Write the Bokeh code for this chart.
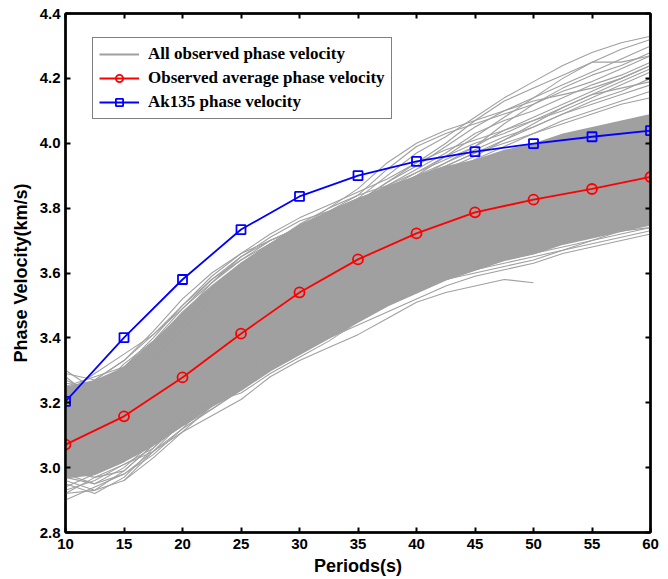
from bokeh.plotting import figure
from bokeh.models import (Legend, LegendItem, LinearAxis, FixedTicker,
                          PrintfTickFormatter, Range1d, CustomJSTickFormatter)
from bokeh.embed import file_html
from bokeh.resources import INLINE

nan = float("nan")

# ---- data ----
periods = [10, 15, 20, 25, 30, 35, 40, 45, 50, 55, 60]
avg_obs = [3.071, 3.158, 3.278, 3.413, 3.540, 3.642, 3.722, 3.787, 3.826, 3.859, 3.896]
ak135 = [3.204, 3.401, 3.580, 3.734, 3.836, 3.900, 3.944, 3.974, 3.999, 4.020, 4.039]

# periods at which the individual observed curves are sampled
obs_periods = [10, 12.5, 15, 17.5, 20, 22.5, 25, 27.5, 30, 32.5, 35,
               37.5, 40, 42.5, 45, 47.5, 50, 52.5, 55, 57.5, 60]

# dense core of the observed curves
core_lo = [2.97, 2.98, 3.02, 3.07, 3.13, 3.19, 3.24, 3.30, 3.35, 3.40, 3.45,
           3.50, 3.54, 3.58, 3.61, 3.64, 3.66, 3.69, 3.71, 3.73, 3.75]
core_hi = [3.25, 3.27, 3.31, 3.39, 3.48, 3.56, 3.63, 3.69, 3.75, 3.79, 3.83,
           3.87, 3.90, 3.93, 3.95, 3.98, 4.00, 4.03, 4.05, 4.07, 4.09]

# individual observed curves on the fringes of the bundle
obs_upper_1 = [3.26, 3.25, 3.31, 3.40, 3.50, 3.58, 3.65, 3.71, 3.76, 3.79, 3.83,
               3.90, 3.97, 4.02, 4.08, 4.14, 4.19, 4.24, 4.28, 4.31, 4.33]
obs_upper_2 = [3.30, 3.24, 3.28, 3.36, 3.46, 3.55, 3.62, 3.68, 3.73, 3.78, 3.82,
               3.88, 3.93, 3.99, 4.05, 4.10, 4.14, 4.18, 4.22, 4.26, 4.30]
obs_upper_3 = [3.22, 3.27, 3.33, 3.42, 3.52, 3.60, 3.66, 3.70, 3.74, 3.78, 3.81,
               3.85, 3.90, 3.96, 4.02, 4.08, 4.14, 4.20, 4.25, 4.25, 4.27]
obs_upper_4 = [3.20, 3.22, 3.30, 3.38, 3.48, 3.56, 3.63, 3.69, 3.75, 3.80, 3.84,
               3.87, 3.91, 3.95, 3.99, 4.04, 4.08, 4.12, 4.16, 4.20, 4.24]
obs_upper_5 = [3.24, 3.26, 3.27, 3.35, 3.44, 3.52, 3.60, 3.66, 3.72, 3.77, 3.82,
               3.88, 3.94, 3.98, 4.01, 4.04, 4.07, 4.10, 4.14, 4.18, 4.22]
obs_upper_6 = [3.18, 3.23, 3.29, 3.37, 3.45, 3.54, 3.61, 3.67, 3.71, 3.76, 3.80,
               3.84, 3.88, 3.92, 3.96, 4.01, 4.06, 4.11, 4.15, 4.17, 4.19]
obs_upper_7 = [3.28, 3.21, 3.26, 3.33, 3.42, 3.50, 3.58, 3.65, 3.71, 3.75, 3.79,
               3.83, 3.87, 3.91, 3.95, 3.99, 4.03, 4.07, 4.10, 4.13, 4.16]
obs_upper_8 = [3.21, 3.24, 3.28, 3.36, 3.47, 3.55, 3.62, 3.68, 3.73, 3.77, 3.81,
               3.85, 3.89, 3.93, 3.97, 4.00, 4.03, 4.06, 4.09, 4.12, 4.14]
obs_upper_9 = [3.25, 3.28, 3.31, 3.39, 3.49, 3.57, 3.64, 3.70, 3.74, 3.79, 3.84,
               3.92, 3.99, 4.03, 4.06, 4.09, 4.12, 4.16, 4.19, 4.23, 4.27]
obs_upper_10 = [3.23, 3.29, 3.35, 3.41, 3.50, 3.59, 3.66, 3.72, 3.77, 3.81, 3.85,
                3.89, 3.94, 4.00, 4.07, 4.13, 4.17, 4.21, 4.25, 4.29, 4.32]
obs_upper_11 = [3.27, 3.23, 3.32, 3.39, 3.47, 3.57, 3.65, 3.70, 3.74, 3.79, 3.83,
                3.86, 3.90, 3.94, 3.99, 4.06, 4.12, 4.17, 4.21, 4.24, 4.28]
obs_upper_12 = [3.21, 3.26, 3.30, 3.37, 3.45, 3.53, 3.61, 3.68, 3.74, 3.78, 3.82,
                3.87, 3.92, 3.97, 4.03, 4.07, 4.10, 4.14, 4.18, 4.21, 4.25]
obs_upper_13 = [3.25, 3.22, 3.29, 3.34, 3.43, 3.52, 3.60, 3.66, 3.72, 3.76, 3.80,
                3.84, 3.89, 3.94, 3.98, 4.02, 4.05, 4.09, 4.13, 4.16, 4.20]
obs_upper_14 = [3.19, 3.25, 3.31, 3.38, 3.46, 3.55, 3.63, 3.69, 3.73, 3.77, 3.82,
                3.86, 3.91, 3.96, 4.00, 4.03, 4.07, 4.11, 4.15, 4.19, 4.23]
obs_upper_15 = [3.29, 3.27, 3.33, 3.41, 3.49, 3.58, 3.64, 3.69, 3.74, 3.80, 3.86,
                3.94, 4.00, 4.04, 4.07, 4.10, 4.13, 4.15, 4.17, 4.20, 4.24]
obs_upper_16 = [3.22, 3.24, 3.27, 3.35, 3.44, 3.53, 3.61, 3.67, 3.72, 3.76, 3.80,
                3.85, 3.90, 3.93, 3.97, 4.01, 4.05, 4.09, 4.12, 4.15, 4.18]
obs_lower_1 = [2.92, 2.93, 2.96, 3.03, 3.11, 3.16, 3.21, 3.28, 3.33, 3.37, 3.41,
               3.46, 3.51, 3.54, 3.56, 3.58, 3.57, nan, nan, nan, nan]
obs_lower_2 = [2.90, 2.94, 2.98, 3.04, 3.12, 3.18, 3.24, 3.30, 3.35, 3.40, 3.44,
               3.48, 3.52, 3.56, 3.59, 3.61, 3.63, 3.66, 3.68, 3.70, 3.72]
obs_lower_3 = [2.95, 2.92, 2.97, 3.06, 3.14, 3.20, 3.26, 3.32, 3.37, 3.42, 3.47,
               3.51, 3.55, 3.58, 3.61, 3.64, 3.66, 3.68, 3.70, 3.72, 3.74]
obs_lower_4 = [2.97, 2.95, 3.00, 3.08, 3.13, 3.19, 3.25, 3.31, 3.37, 3.43, 3.48,
               3.53, 3.57, 3.60, 3.62, 3.65, 3.68, 3.70, 3.72, 3.73, 3.75]
obs_lower_5 = [2.93, 2.96, 3.01, 3.05, 3.12, 3.21, 3.28, 3.34, 3.39, 3.44, 3.49,
               3.53, 3.56, 3.59, 3.63, 3.66, 3.69, 3.71, 3.73, 3.75, 3.77]
obs_lower_6 = [2.99, 2.97, 2.99, 3.07, 3.16, 3.22, 3.27, 3.33, 3.36, 3.41, 3.46,
               3.51, 3.56, 3.60, 3.64, 3.67, 3.70, 3.72, 3.74, 3.76, 3.78]
obs_lower_7 = [2.94, 2.98, 3.02, 3.09, 3.15, 3.20, 3.23, 3.29, 3.34, 3.39, 3.45,
               3.50, 3.54, 3.58, 3.61, 3.63, 3.65, 3.67, 3.70, 3.73, 3.76]
obs_lower_8 = [nan, nan, 2.96, 3.05, 3.14, 3.22, 3.29, 3.35, 3.40, 3.45, 3.50,
               3.55, 3.58, 3.61, 3.64, 3.67, 3.69, 3.72, 3.74, 3.77, 3.79]
obs_lower_9 = [2.96, 2.93, 2.99, 3.07, 3.13, 3.18, 3.24, 3.31, 3.36, 3.40, 3.45,
               3.50, 3.55, 3.59, 3.62, 3.64, 3.66, 3.69, 3.72, 3.74, 3.75]
obs_lower_10 = [2.92, 2.97, 3.01, 3.06, 3.15, 3.22, 3.29, 3.33, 3.38, 3.43, 3.48,
                3.52, 3.55, 3.58, 3.60, 3.62, 3.64, 3.67, 3.69, 3.71, 3.73]
obs_lower_11 = [2.98, 2.95, 2.98, 3.05, 3.11, 3.19, 3.26, 3.32, 3.38, 3.44, 3.49,
                3.54, 3.58, 3.61, 3.63, 3.66, 3.68, 3.70, 3.71, 3.73, 3.74]

obs_curves = [obs_upper_1, obs_upper_2, obs_upper_3, obs_upper_4, obs_upper_5,
              obs_upper_6, obs_upper_7, obs_upper_8, obs_upper_9, obs_upper_10,
              obs_upper_11, obs_upper_12, obs_upper_13, obs_upper_14,
              obs_upper_15, obs_upper_16,
              obs_lower_1, obs_lower_2, obs_lower_3, obs_lower_4, obs_lower_5,
              obs_lower_6, obs_lower_7, obs_lower_8, obs_lower_9, obs_lower_10,
              obs_lower_11]

x_ticks = [10, 15, 20, 25, 30, 35, 40, 45, 50, 55, 60]
y_ticks = [2.8, 3.0, 3.2, 3.4, 3.6, 3.8, 4.0, 4.2, 4.4]

GRAY = "#a0a0a0"
TICK_FONT = "Liberation Sans"

p = figure(width=668, height=579, x_range=Range1d(10, 60), y_range=Range1d(2.8, 4.4),
           output_backend="svg", toolbar_location=None,
           min_border_left=65, min_border_right=18, min_border_top=13,
           min_border_bottom=47)
p.grid.visible = False
p.outline_line_color = "black"
p.outline_line_width = 2
p.background_fill_color = "white"

# observed curves: dense core, its edge, and the fringe curves
p.varea(x=obs_periods, y1=core_lo, y2=core_hi, fill_color=GRAY, fill_alpha=1.0)
gray_key = p.line(obs_periods, core_lo, line_color=GRAY, line_width=2.2)
for c in obs_curves:
    p.line(obs_periods, c, line_color=GRAY, line_width=1.1)

red_line = p.line(periods, avg_obs, line_color="red", line_width=1.8)
red_pts = p.scatter(periods, avg_obs, marker="circle", size=10, fill_color=None,
                    line_color="red", line_width=1.8)
blue_line = p.line(periods, ak135, line_color="blue", line_width=1.8)
blue_pts = p.scatter(periods, ak135, marker="square", size=9, fill_color=None,
                     line_color="blue", line_width=1.8)

def style_axis(ax):
    ax.axis_line_width = 2.5
    ax.axis_line_color = "black"
    ax.major_tick_in = 5
    ax.major_tick_out = 0
    ax.major_tick_line_width = 2
    ax.minor_tick_line_color = None
    ax.major_label_text_font = TICK_FONT
    ax.major_label_text_font_style = "bold"
    ax.major_label_text_font_size = "15px"
    ax.major_label_text_color = "black"
    ax.axis_label_text_font = TICK_FONT
    ax.axis_label_text_font_style = "bold"
    ax.axis_label_text_font_size = "18px"
    ax.axis_label_text_color = "black"

xa = p.xaxis[0]
ya = p.yaxis[0]
xa.ticker = FixedTicker(ticks=x_ticks)
ya.ticker = FixedTicker(ticks=y_ticks)
ya.formatter = PrintfTickFormatter(format="%.1f")
style_axis(xa)
style_axis(ya)
xa.axis_label = "Periods(s)"
ya.axis_label = "Phase Velocity(km/s)"
xa.major_label_standoff = 6
ya.major_label_standoff = 5
xa.axis_label_standoff = 4
ya.axis_label_standoff = 6

empty = CustomJSTickFormatter(code="return ''")
top = LinearAxis(ticker=FixedTicker(ticks=x_ticks), formatter=empty)
right = LinearAxis(ticker=FixedTicker(ticks=y_ticks), formatter=empty)
for ax in (top, right):
    style_axis(ax)
    ax.major_label_text_font_size = "1px"
    ax.major_label_standoff = 0
p.add_layout(top, "above")
p.add_layout(right, "right")

legend = Legend(items=[
    LegendItem(label="All observed phase velocity", renderers=[gray_key]),
    LegendItem(label="Observed average phase velocity", renderers=[red_line, red_pts]),
    LegendItem(label="Ak135 phase velocity", renderers=[blue_line, blue_pts]),
], location=(27, 413))
legend.label_text_font = "Liberation Serif"
legend.label_text_font_style = "bold"
legend.label_text_font_size = "17px"
legend.label_text_color = "black"
legend.border_line_color = "black"
legend.border_line_width = 1
legend.background_fill_color = "white"
legend.background_fill_alpha = 1
legend.glyph_width = 40
legend.glyph_height = 18
legend.label_height = 18
legend.spacing = 4
legend.padding = 6
legend.label_standoff = 9
p.add_layout(legend)

open("out.html", "w").write(file_html(p, INLINE))
